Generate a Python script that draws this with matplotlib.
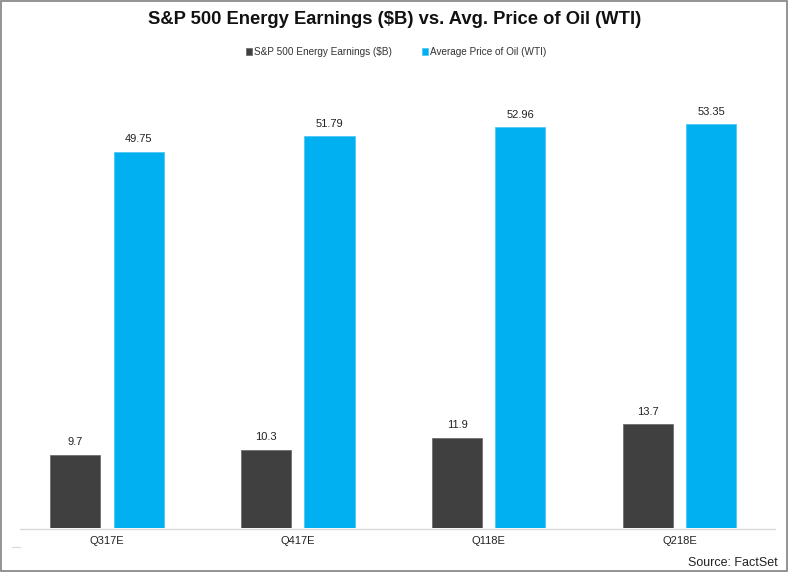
import matplotlib
matplotlib.use("Agg")
import matplotlib.pyplot as plt
from matplotlib.patches import Rectangle
from matplotlib.lines import Line2D
import numpy as np

plt.rcParams['font.family'] = ['Liberation Sans', 'DejaVu Sans']

categories = ["Q317E", "Q417E", "Q118E", "Q218E"]
earnings = [9.7, 10.3, 11.9, 13.7]
oil = [49.75, 51.79, 52.96, 53.35]
earn_labels = ["9.7", "10.3", "11.9", "13.7"]
oil_labels = ["49.75", "51.79", "52.96", "53.35"]

dark = "#404040"
blue = "#00B0F0"

W, H = 789, 572
fig = plt.figure(figsize=(W/100, H/100), dpi=100)
ax = fig.add_axes([11.5/W, 1-528/H, 763.5/W, (528-74)/H])

x = np.arange(len(categories))
w = 0.262
off = 0.166
b1 = ax.bar(x - off, earnings, w, color=dark, edgecolor="#6e6e6e", linewidth=0.6,
            label="S&P 500 Energy Earnings ($B)")
b2 = ax.bar(x + off, oil, w, color=blue, edgecolor="#4fc8f5", linewidth=0.6,
            label="Average Price of Oil (WTI)")
for rect, t in zip(b1, earn_labels):
    ax.text(rect.get_x() + rect.get_width()/2, rect.get_height() + 1.0, t,
            ha="center", va="bottom", fontsize=8, color="#222222")
for rect, t in zip(b2, oil_labels):
    ax.text(rect.get_x() + rect.get_width()/2, rect.get_height() + 1.0, t,
            ha="center", va="bottom", fontsize=8, color="#222222")

ax.set_xlim(-0.5, len(categories) - 0.5)
ax.set_ylim(0, 60)
ax.set_xticks(x)
ax.set_xticklabels(categories, fontsize=8, color="#222222")
ax.tick_params(axis="x", length=0, pad=6)
ax.set_yticks([])
for s in ["top", "right", "left", "bottom"]:
    ax.spines[s].set_visible(False)

# baseline
fig.add_artist(Line2D([20/W, 775/W], [1-528.5/H, 1-528.5/H], transform=fig.transFigure,
                      color="#d9d9d9", linewidth=1.0, zorder=0))
# small tick mark at lower left
fig.add_artist(Line2D([12/W, 20/W], [1-546.5/H, 1-546.5/H], transform=fig.transFigure,
                      color="#d9d9d9", linewidth=0.8))

fig.text(0.5, 1-20/H, "S&P 500 Energy Earnings ($B) vs. Avg. Price of Oil (WTI)",
         ha="center", va="center", fontsize=13.2, fontweight="bold", color="#111111")

leg = fig.legend(handles=[b1, b2], loc="center", bbox_to_anchor=(396/W, 1-52/H),
                 ncol=2, frameon=False, fontsize=7.2, handlelength=0.6, handleheight=0.6,
                 handletextpad=0.2, columnspacing=3.0)
for t in leg.get_texts():
    t.set_color("#333333")

fig.text(778/W, 1-563/H, "Source: FactSet", ha="right", va="center",
         fontsize=9, color="#222222")

fig.add_artist(Rectangle((0.001, 0.001), 0.997, 0.997, transform=fig.transFigure,
                         fill=False, edgecolor="#808080", linewidth=1.2))

fig.savefig("out.png", dpi=100)
